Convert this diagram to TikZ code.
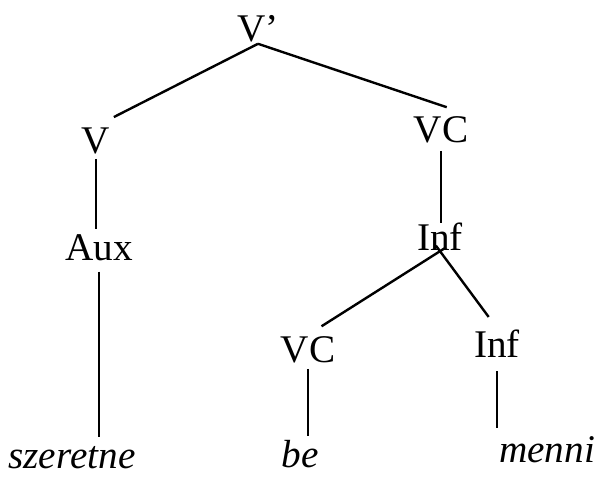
\documentclass[tikz,border=0pt]{standalone}
\usepackage{fontspec}
\setmainfont{Liberation Serif}

\begin{document}
\begin{tikzpicture}[x=0.5pt, y=-0.5pt, line width=1.2pt,
  every cat/.style={inner sep=0pt, anchor=base, font=\fontsize{19.6}{23}\selectfont},
  every word/.style={every cat, font=\fontsize{19.6}{23}\selectfont\itshape}]
\useasboundingbox (0,0) rectangle (598,476);

% plot categories
\foreach \n/\t/\x/\y in {vbar/V’/258/42, v/V/96/153, vc/VC/441/142,
    aux/Aux/99/260, inf/Inf/440/250, vcb/VC/308/362, infb/Inf/497/357}
  \node [every cat/.try] (\n) at (\x,\y) {\t};

% plot words
\foreach \n/\x/\y in {szeretne/72/468, be/300/467, menni/547/462}
  \node [every word/.try] (\n) at (\x,\y) {\n};

% branches
\draw [shorten >=10pt] (vbar.south) -- (v.north);
\draw [shorten >=12pt] (vbar.south) -- (vc.north east);
\draw [shorten <=-3.5pt, shorten >=8pt] (inf.south) -- (vcb.north);
\draw [shorten <=-3.5pt, shorten >=7pt] (inf.south) -- (infb.north);

\foreach \a/\b/\s/\e in {v/aux/2pt/2pt, aux/szeretne/5pt/4pt, vc/inf/3.5pt/-1pt,
    vcb/be/2.5pt/1.5pt, infb/menni/6.5pt/3.5pt}
  \draw [shorten <=\s, shorten >=\e] (\a.south) -- (\a.south |- \b.north);
\end{tikzpicture}
\end{document}
